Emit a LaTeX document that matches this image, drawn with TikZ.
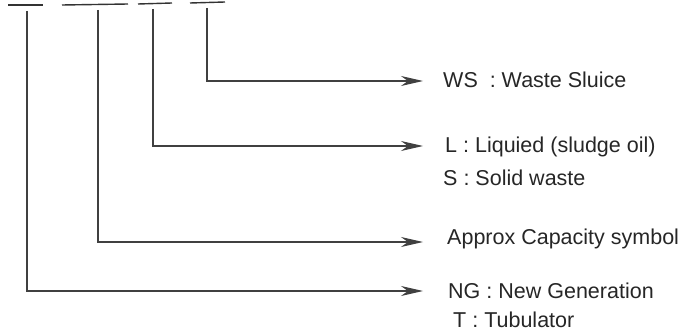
\documentclass[tikz,border=0pt]{standalone}
\usepackage{fontspec}
\setmainfont{Liberation Sans}
\usetikzlibrary{arrows.meta}
\begin{document}
\begin{tikzpicture}[x=1pt,y=-1pt,
  conn/.style={draw=black!75, line width=1.2pt, -{Stealth[length=22pt,width=10pt,inset=7pt]}},
  blank/.style={draw=black!80, line width=1.4pt},
  lbl/.style={anchor=base west, inner sep=0pt, font=\fontsize{21.5}{24}\selectfont, text=black!85}]
\useasboundingbox (0,0) rectangle (684,331);
% blanks of the code
\draw[blank] (8,5) -- (43,5);
\draw[blank] (62,5) -- (128,4);
\draw[blank] (138,4) -- (172,3);
\draw[blank] (190,3) -- (225,2);
% start points of connectors
\coordinate (v1) at (27,11);
\coordinate (v2) at (98,10);
\coordinate (v3) at (153,9);
\coordinate (v4) at (207,8);
% arrow tips
\coordinate (a1) at (423,291);
\coordinate (a2) at (423,242);
\coordinate (a3) at (423,146);
\coordinate (a4) at (423,81);
% labels
\node[lbl] (ws) at (443,88) {WS\ \ : Waste Sluice};
\node[lbl] (l) at (445,153) {L : Liquied (sludge oil)};
\node[lbl] (s) at (443,185) {S : Solid waste};
\node[lbl] (cap) at (447,244) {Approx Capacity symbol};
\node[lbl] (ng) at (448,298) {NG : New Generation};
\node[lbl] (t) at (453,327) {T : Tubulator};
% connectors
\draw[conn] (v1) |- (a1);
\draw[conn] (v2) |- (a2);
\draw[conn] (v3) |- (a3);
\draw[conn] (v4) |- (a4);
\end{tikzpicture}
\end{document}
